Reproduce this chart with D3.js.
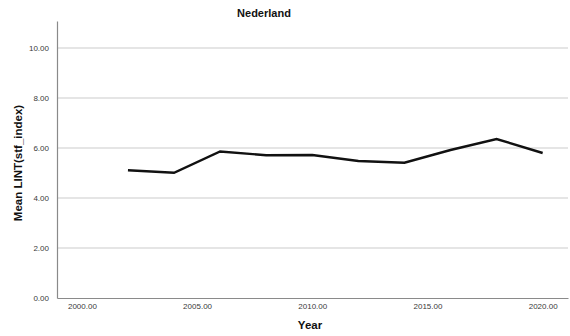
<!DOCTYPE html>
<html><head><meta charset="utf-8">
<script src="https://cdn.jsdelivr.net/npm/d3@7"></script>
<style>body{margin:0;background:#fff}svg{display:block}</style>
</head><body>
<svg id="c" width="570" height="336"></svg>
<script>
const years = [2002, 2004, 2006, 2008, 2010, 2012, 2014, 2016, 2018, 2020];
const values = [5.11, 5.01, 5.86, 5.71, 5.72, 5.48, 5.41, 5.92, 6.36, 5.80];
const xTicks = [2000, 2005, 2010, 2015, 2020];
const yTicks = [0, 2, 4, 6, 8, 10];
const title = "Nederland";
const xTitle = "Year";
const yTitle = "Mean LINT(stf_index)";

const svg = d3.select("#c");
const font = "'Liberation Sans', Arial, sans-serif";
const x = d3.scaleLinear().domain([1998.92, 2021.1]).range([57, 568]);
const y = d3.scaleLinear().domain([0, 11.08]).range([298, 21]);

// gridlines
svg.append("g").selectAll("line").data(yTicks.filter(d => d > 0)).join("line")
  .attr("x1", 58).attr("x2", 568)
  .attr("y1", d => y(d)).attr("y2", d => y(d))
  .attr("stroke", "#dcdcdc").attr("stroke-width", 1.3);

// y axis
const ya = svg.append("g").attr("transform", "translate(57,0)")
  .call(d3.axisLeft(y).tickValues(yTicks).tickFormat(d3.format(".2f")).tickSize(0).tickPadding(8));
ya.select(".domain").attr("stroke", "#8a8a8a").attr("stroke-width", 1.2);
ya.selectAll("text").attr("font-family", font).attr("font-size", 8).attr("fill", "#3a3a3a");

// x axis
const xa = svg.append("g").attr("transform", "translate(0,298)")
  .call(d3.axisBottom(x).tickValues(xTicks).tickFormat(d3.format(".2f")).tickSize(0).tickPadding(5));
xa.select(".domain").attr("stroke", "#8a8a8a").attr("stroke-width", 1.2);
xa.selectAll("text").attr("font-family", font).attr("font-size", 8).attr("fill", "#3a3a3a");

// line
svg.append("path").datum(years.map((d, i) => [d, values[i]]))
  .attr("d", d3.line().x(d => x(d[0])).y(d => y(d[1])))
  .attr("fill", "none").attr("stroke", "#111").attr("stroke-width", 2.4)
  .attr("stroke-linejoin", "miter");

// titles
svg.append("text").attr("x", 264).attr("y", 17).attr("text-anchor", "middle")
  .attr("font-family", font).attr("font-weight", "bold").attr("font-size", 11).attr("fill", "#111").text(title);
svg.append("text").attr("x", 310).attr("y", 329).attr("text-anchor", "middle")
  .attr("font-family", font).attr("font-weight", "bold").attr("font-size", 11.5).attr("fill", "#111").text(xTitle);
svg.append("text").attr("transform", "translate(22,163) rotate(-90)").attr("text-anchor", "middle")
  .attr("font-family", font).attr("font-weight", "bold").attr("font-size", 11.5).attr("fill", "#111").text(yTitle);
</script>
</body></html>
